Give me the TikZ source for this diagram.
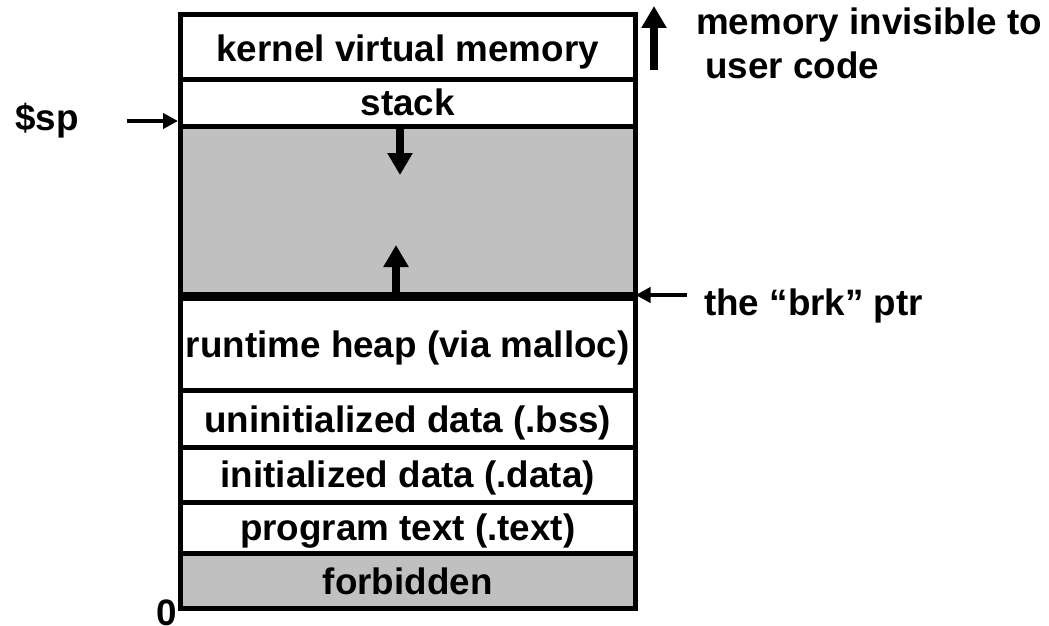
\documentclass[tikz,border=0pt]{standalone}
\usepackage{fontspec}
\setmainfont{Liberation Sans}
\usetikzlibrary{arrows.meta}
\definecolor{areagray}{HTML}{C0C0C0}
\begin{document}
\begin{tikzpicture}[x=1pt,y=-1pt,
  every node/.style={inner sep=0pt,font=\bfseries\fontsize{36.8}{40}\selectfont},
  cell/.style={draw,line width=5pt,rectangle,minimum width=454.5pt,
    text height=28pt,text depth=1pt},
  shaded/.style={cell,fill=areagray},
  ptr/.style={line width=4.5pt,-{Triangle[length=15pt,width=15pt]}},
  growarrow/.style={line width=8pt,-{Triangle[length=22pt,width=24pt]}}]
\useasboundingbox (0,0) rectangle (1049,626);

% address-space segments, top (high addresses) to bottom
\node[cell,minimum height=64.5pt,text height=30.5pt] (kernel) at (407.75,46.75) {kernel virtual memory};
\node[cell,minimum height=47.5pt,text height=26pt] (stack) at (407.75,102.75) {stack};
\node[shaded,minimum height=168pt] (free) at (407.75,210.5) {};
\node[cell,minimum height=96pt,text height=30pt] (heap) at (407.75,342.5) {runtime heap (via malloc)};
\node[cell,minimum height=57pt] (bss) at (407.75,419) {uninitialized data (.bss)};
\node[cell,minimum height=55pt,text height=25pt] (data) at (407.75,475) {initialized data (.data)};
\node[cell,minimum height=51pt,text height=25pt] (text) at (407.75,528) {program text (.text)};
\node[shaded,minimum height=54.5pt,text height=29pt] (forbidden) at (407.75,580.75) {forbidden};

% break pointer boundary
\draw[line width=8pt] (free.south west) -- (free.south east);

% growth directions of stack and heap
\coordinate (stacktip) at (400,175);
\draw[growarrow] (stacktip |- stack.south) -- (stacktip);
\coordinate (heaptip) at (396,245);
\draw[growarrow] (heaptip |- free.south) -- (heaptip);

% stack pointer
\node[anchor=base west] (sp) at (15,130) {\$sp};
\coordinate (sptail) at (127,121);
\draw[ptr] (sptail) -- (sptail -| stack.south west);

% brk pointer
\node[anchor=base west] (brk) at (704,315) {the “brk” ptr};
\coordinate (brktail) at (687,295);
\draw[ptr,shorten >=-2pt] (brktail) -- (brktail -| free.south east);

% kernel region note
\coordinate (kerntail) at (654,70);
\coordinate (kerntip) at (654,6);
\draw[growarrow] (kerntail) -- (kerntip);
\node[anchor=base west] (inv1) at (696,35) {memory invisible to};
\node[anchor=base west] (inv2) at (705,78) {user code};

% lowest address
\node[anchor=base east] (zero) at (177,625.5) {0};
\end{tikzpicture}
\end{document}
